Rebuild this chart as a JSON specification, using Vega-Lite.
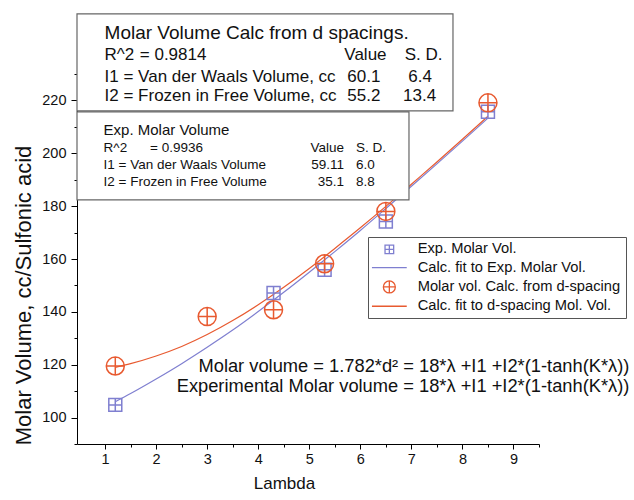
{
  "$schema": "https://vega.github.io/schema/vega-lite/v6.json",
  "width": 462,
  "height": 370,
  "autosize": "none",
  "padding": {"left": 77, "top": 74, "right": 95, "bottom": 56},
  "background": "white",
  "config": {
    "view": {"stroke": null},
    "font": "Liberation Sans",
    "legend": {
      "orient": "none",
      "legendX": 291,
      "legendY": 163,
      "fillColor": "white",
      "strokeColor": "#555555",
      "padding": 5,
      "symbolSize": 144,
      "symbolStrokeWidth": 1.3,
      "symbolOffset": 9,
      "labelOffset": 21,
      "labelFontSize": 14.7,
      "labelFont": "Liberation Sans",
      "labelColor": "#111111",
      "rowPadding": 2.3,
      "labelLimit": 400
    }
  },
  "resolve": {"axis": {"x": "independent", "y": "independent"}},
  "datasets": {
    "points": [
      {"lambda": 1.2, "volume": 104.8, "series": "Exp. Molar Vol."},
      {"lambda": 4.3, "volume": 147.1, "series": "Exp. Molar Vol."},
      {"lambda": 5.3, "volume": 155.9, "series": "Exp. Molar Vol."},
      {"lambda": 6.5, "volume": 174.2, "series": "Exp. Molar Vol."},
      {"lambda": 8.5, "volume": 215.7, "series": "Exp. Molar Vol."},
      {"lambda": 1.2, "volume": 119.5, "series": "Molar vol. Calc. from d-spacing"},
      {"lambda": 3.0, "volume": 138.2, "series": "Molar vol. Calc. from d-spacing"},
      {"lambda": 4.3, "volume": 140.8, "series": "Molar vol. Calc. from d-spacing"},
      {"lambda": 5.3, "volume": 158.2, "series": "Molar vol. Calc. from d-spacing"},
      {"lambda": 6.5, "volume": 178.0, "series": "Molar vol. Calc. from d-spacing"},
      {"lambda": 8.5, "volume": 219.1, "series": "Molar vol. Calc. from d-spacing"}
    ],
    "fits": [
      {"lambda": 1.2, "volume": 106.0, "series": "Calc. fit to Exp. Molar Vol."},
      {"lambda": 1.5, "volume": 109.1, "series": "Calc. fit to Exp. Molar Vol."},
      {"lambda": 2.0, "volume": 114.6, "series": "Calc. fit to Exp. Molar Vol."},
      {"lambda": 2.5, "volume": 120.4, "series": "Calc. fit to Exp. Molar Vol."},
      {"lambda": 3.0, "volume": 126.6, "series": "Calc. fit to Exp. Molar Vol."},
      {"lambda": 3.5, "volume": 133.1, "series": "Calc. fit to Exp. Molar Vol."},
      {"lambda": 4.0, "volume": 140.1, "series": "Calc. fit to Exp. Molar Vol."},
      {"lambda": 4.5, "volume": 147.4, "series": "Calc. fit to Exp. Molar Vol."},
      {"lambda": 5.0, "volume": 155.0, "series": "Calc. fit to Exp. Molar Vol."},
      {"lambda": 5.5, "volume": 162.8, "series": "Calc. fit to Exp. Molar Vol."},
      {"lambda": 6.0, "volume": 170.8, "series": "Calc. fit to Exp. Molar Vol."},
      {"lambda": 6.5, "volume": 179.1, "series": "Calc. fit to Exp. Molar Vol."},
      {"lambda": 7.0, "volume": 187.5, "series": "Calc. fit to Exp. Molar Vol."},
      {"lambda": 7.5, "volume": 196.0, "series": "Calc. fit to Exp. Molar Vol."},
      {"lambda": 8.0, "volume": 204.6, "series": "Calc. fit to Exp. Molar Vol."},
      {"lambda": 8.5, "volume": 213.3, "series": "Calc. fit to Exp. Molar Vol."},
      {"lambda": 1.2, "volume": 119.0, "series": "Calc. fit to d-spacing Mol. Vol."},
      {"lambda": 1.5, "volume": 120.4, "series": "Calc. fit to d-spacing Mol. Vol."},
      {"lambda": 2.0, "volume": 123.3, "series": "Calc. fit to d-spacing Mol. Vol."},
      {"lambda": 2.5, "volume": 126.9, "series": "Calc. fit to d-spacing Mol. Vol."},
      {"lambda": 3.0, "volume": 131.4, "series": "Calc. fit to d-spacing Mol. Vol."},
      {"lambda": 3.5, "volume": 136.7, "series": "Calc. fit to d-spacing Mol. Vol."},
      {"lambda": 4.0, "volume": 142.7, "series": "Calc. fit to d-spacing Mol. Vol."},
      {"lambda": 4.5, "volume": 149.3, "series": "Calc. fit to d-spacing Mol. Vol."},
      {"lambda": 5.0, "volume": 156.4, "series": "Calc. fit to d-spacing Mol. Vol."},
      {"lambda": 5.5, "volume": 164.0, "series": "Calc. fit to d-spacing Mol. Vol."},
      {"lambda": 6.0, "volume": 171.8, "series": "Calc. fit to d-spacing Mol. Vol."},
      {"lambda": 6.5, "volume": 179.9, "series": "Calc. fit to d-spacing Mol. Vol."},
      {"lambda": 7.0, "volume": 188.3, "series": "Calc. fit to d-spacing Mol. Vol."},
      {"lambda": 7.5, "volume": 196.7, "series": "Calc. fit to d-spacing Mol. Vol."},
      {"lambda": 8.0, "volume": 205.3, "series": "Calc. fit to d-spacing Mol. Vol."},
      {"lambda": 8.5, "volume": 214.0, "series": "Calc. fit to d-spacing Mol. Vol."}
    ],
    "boxes": [
      {"lambda": 0.45, "lambda2": 7.815, "volume": 216.04, "volume2": 252.75},
      {"lambda": 0.45, "lambda2": 6.953, "volume": 182.35, "volume2": 215.66}
    ],
    "box1Title": [
      {"lambda": 0.99, "volume": 245.7, "text": "Molar Volume Calc from d spacings."}
    ],
    "box1Left": [
      {"lambda": 0.99, "volume": 237.2, "text": "R^2"},
      {"lambda": 1.68, "volume": 237.2, "text": "= 0.9814"},
      {"lambda": 0.99, "volume": 229.0, "text": "I1 = Van der Waals Volume, cc"},
      {"lambda": 0.99, "volume": 221.5, "text": "I2 = Frozen in Free Volume, cc"}
    ],
    "box1Center": [
      {"lambda": 6.10, "volume": 237.2, "text": "Value"},
      {"lambda": 7.24, "volume": 237.2, "text": "S. D."},
      {"lambda": 6.07, "volume": 229.0, "text": "60.1"},
      {"lambda": 7.17, "volume": 229.0, "text": "6.4"},
      {"lambda": 6.07, "volume": 221.5, "text": "55.2"},
      {"lambda": 7.16, "volume": 221.5, "text": "13.4"}
    ],
    "box2Title": [
      {"lambda": 0.97, "volume": 208.85, "text": "Exp. Molar Volume"}
    ],
    "box2Left": [
      {"lambda": 0.97, "volume": 202.1, "text": "R^2"},
      {"lambda": 1.88, "volume": 202.1, "text": "= 0.9936"},
      {"lambda": 0.97, "volume": 195.6, "text": "I1 = Van der Waals Volume"},
      {"lambda": 0.97, "volume": 189.0, "text": "I2 = Frozen in Free Volume"},
      {"lambda": 5.915, "volume": 202.1, "text": "S. D."},
      {"lambda": 5.915, "volume": 195.6, "text": "6.0"},
      {"lambda": 5.915, "volume": 189.0, "text": "8.8"}
    ],
    "box2Right": [
      {"lambda": 5.68, "volume": 202.1, "text": "Value"},
      {"lambda": 5.68, "volume": 195.6, "text": "59.11"},
      {"lambda": 5.68, "volume": 189.0, "text": "35.1"}
    ],
    "equations": [
      {"lambda": 11.27, "volume": 119.26, "text": "Molar volume = 1.782*d²  = 18*λ +I1 +I2*(1-tanh(K*λ))"},
      {"lambda": 11.27, "volume": 111.69, "text": "Experimental Molar volume = 18*λ +I1 +I2*(1-tanh(K*λ))"}
    ]
  },
  "layer": [
    {
      "data": {"name": "fits"},
      "mark": {"type": "line", "strokeWidth": 1.2, "interpolate": "monotone"},
      "encoding": {
        "x": {
          "field": "lambda", "type": "quantitative",
          "scale": {"domain": [0.45, 9.5], "nice": false, "zero": false},
          "axis": {
            "orient": "bottom",
            "title": "Lambda",
            "titleFontSize": 17, "titleFont": "Liberation Sans", "titleFontWeight": "normal", "titleColor": "#111111",
            "titleX": 207, "titleY": 39, "titleBaseline": "middle", "titleAlign": "center",
            "values": [1, 2, 3, 4, 5, 6, 7, 8, 9],
            "format": "d",
            "labelFontSize": 14.5, "labelFont": "Liberation Sans", "labelColor": "#111111",
            "labelPadding": 3, "labelOverlap": false, "labelFlush": false,
            "tickSize": 5,
            "tickColor": "black", "domainColor": "black", "grid": false
          }
        },
        "y": {
          "field": "volume", "type": "quantitative",
          "scale": {"domain": [90, 230], "nice": false, "zero": false},
          "axis": {
            "orient": "left",
            "title": "Molar Volume, cc/Sulfonic acid",
            "titleFontSize": 22, "titleFont": "Liberation Sans", "titleFontWeight": "normal", "titleColor": "#111111",
            "titleX": -54, "titleY": 221, "titleAngle": 270, "titleBaseline": "middle", "titleAlign": "center",
            "values": [100, 120, 140, 160, 180, 200, 220],
            "format": "d",
            "labelFontSize": 14.5, "labelFont": "Liberation Sans", "labelColor": "#111111",
            "labelPadding": 5, "labelOverlap": false, "labelFlush": false,
            "tickSize": 6,
            "tickColor": "black", "domainColor": "black", "grid": false
          }
        },
        "color": {
          "field": "series", "type": "nominal", "title": null,
          "scale": {
            "domain": ["Exp. Molar Vol.", "Calc. fit to Exp. Molar Vol.", "Molar vol. Calc. from d-spacing", "Calc. fit to d-spacing Mol. Vol."],
            "range": ["#7f7fd0", "#7f7fd0", "#e85a30", "#e85a30"]
          }
        }
      }
    },
    {
      "data": {"name": "points"},
      "mark": {"type": "point", "filled": false, "size": 324, "strokeWidth": 1.5, "opacity": 1},
      "encoding": {
        "x": {
          "field": "lambda", "type": "quantitative",
          "scale": {"domain": [0.45, 9.5], "nice": false, "zero": false},
          "axis": {
            "orient": "bottom", "title": null, "labels": false, "domain": false, "grid": false,
            "values": [1.5, 2.5, 3.5, 4.5, 5.5, 6.5, 7.5, 8.5, 9.5],
            "tickSize": 3, "tickColor": "black"
          }
        },
        "y": {
          "field": "volume", "type": "quantitative",
          "scale": {"domain": [90, 230], "nice": false, "zero": false},
          "axis": {
            "orient": "left", "title": null, "labels": false, "domain": false, "grid": false,
            "values": [90, 110, 130, 150, 170, 190, 210, 230],
            "tickSize": 3, "tickColor": "black"
          }
        },
        "color": {
          "field": "series", "type": "nominal", "title": null,
          "scale": {
            "domain": ["Exp. Molar Vol.", "Calc. fit to Exp. Molar Vol.", "Molar vol. Calc. from d-spacing", "Calc. fit to d-spacing Mol. Vol."],
            "range": ["#7f7fd0", "#7f7fd0", "#e85a30", "#e85a30"]
          }
        },
        "shape": {
          "field": "series", "type": "nominal", "title": null,
          "scale": {
            "domain": ["Exp. Molar Vol.", "Calc. fit to Exp. Molar Vol.", "Molar vol. Calc. from d-spacing", "Calc. fit to d-spacing Mol. Vol."],
            "range": [
              "M-0.72,-0.72H0.72V0.72H-0.72Z M0,-0.72V0.72 M-0.72,0H0.72",
              "M-2.9,0H2.9",
              "M-1,0A1,1 0 1,0 1,0A1,1 0 1,0 -1,0Z M0,-1V1 M-1,0H1",
              "M-2.9,0H2.9"
            ]
          }
        }
      }
    },
    {
      "data": {"name": "boxes"},
      "mark": {"type": "rect", "fill": "white", "stroke": "#666666", "strokeWidth": 1.2},
      "encoding": {
        "x": {"field": "lambda", "type": "quantitative", "scale": {"domain": [0.45, 9.5], "nice": false, "zero": false}, "axis": null},
        "x2": {"field": "lambda2"},
        "y": {"field": "volume", "type": "quantitative", "scale": {"domain": [90, 230], "nice": false, "zero": false}, "axis": null},
        "y2": {"field": "volume2"}
      }
    },
    {
      "data": {"name": "box1Title"},
      "mark": {"type": "text", "align": "left", "baseline": "middle", "fontSize": 19, "font": "Liberation Sans", "color": "#111111"},
      "encoding": {
        "x": {"field": "lambda", "type": "quantitative", "scale": {"domain": [0.45, 9.5], "nice": false, "zero": false}, "axis": null},
        "y": {"field": "volume", "type": "quantitative", "scale": {"domain": [90, 230], "nice": false, "zero": false}, "axis": null},
        "text": {"field": "text"}
      }
    },
    {
      "data": {"name": "box1Left"},
      "mark": {"type": "text", "align": "left", "baseline": "middle", "fontSize": 17, "font": "Liberation Sans", "color": "#111111"},
      "encoding": {
        "x": {"field": "lambda", "type": "quantitative", "scale": {"domain": [0.45, 9.5], "nice": false, "zero": false}, "axis": null},
        "y": {"field": "volume", "type": "quantitative", "scale": {"domain": [90, 230], "nice": false, "zero": false}, "axis": null},
        "text": {"field": "text"}
      }
    },
    {
      "data": {"name": "box1Center"},
      "mark": {"type": "text", "align": "center", "baseline": "middle", "fontSize": 17, "font": "Liberation Sans", "color": "#111111"},
      "encoding": {
        "x": {"field": "lambda", "type": "quantitative", "scale": {"domain": [0.45, 9.5], "nice": false, "zero": false}, "axis": null},
        "y": {"field": "volume", "type": "quantitative", "scale": {"domain": [90, 230], "nice": false, "zero": false}, "axis": null},
        "text": {"field": "text"}
      }
    },
    {
      "data": {"name": "box2Title"},
      "mark": {"type": "text", "align": "left", "baseline": "middle", "fontSize": 15, "font": "Liberation Sans", "color": "#111111"},
      "encoding": {
        "x": {"field": "lambda", "type": "quantitative", "scale": {"domain": [0.45, 9.5], "nice": false, "zero": false}, "axis": null},
        "y": {"field": "volume", "type": "quantitative", "scale": {"domain": [90, 230], "nice": false, "zero": false}, "axis": null},
        "text": {"field": "text"}
      }
    },
    {
      "data": {"name": "box2Left"},
      "mark": {"type": "text", "align": "left", "baseline": "middle", "fontSize": 13.5, "font": "Liberation Sans", "color": "#111111"},
      "encoding": {
        "x": {"field": "lambda", "type": "quantitative", "scale": {"domain": [0.45, 9.5], "nice": false, "zero": false}, "axis": null},
        "y": {"field": "volume", "type": "quantitative", "scale": {"domain": [90, 230], "nice": false, "zero": false}, "axis": null},
        "text": {"field": "text"}
      }
    },
    {
      "data": {"name": "box2Right"},
      "mark": {"type": "text", "align": "right", "baseline": "middle", "fontSize": 13.5, "font": "Liberation Sans", "color": "#111111"},
      "encoding": {
        "x": {"field": "lambda", "type": "quantitative", "scale": {"domain": [0.45, 9.5], "nice": false, "zero": false}, "axis": null},
        "y": {"field": "volume", "type": "quantitative", "scale": {"domain": [90, 230], "nice": false, "zero": false}, "axis": null},
        "text": {"field": "text"}
      }
    },
    {
      "data": {"name": "equations"},
      "mark": {"type": "text", "align": "right", "baseline": "middle", "fontSize": 18.3, "font": "Liberation Sans", "color": "#111111"},
      "encoding": {
        "x": {"field": "lambda", "type": "quantitative", "scale": {"domain": [0.45, 9.5], "nice": false, "zero": false}, "axis": null},
        "y": {"field": "volume", "type": "quantitative", "scale": {"domain": [90, 230], "nice": false, "zero": false}, "axis": null},
        "text": {"field": "text"}
      }
    }
  ]
}
